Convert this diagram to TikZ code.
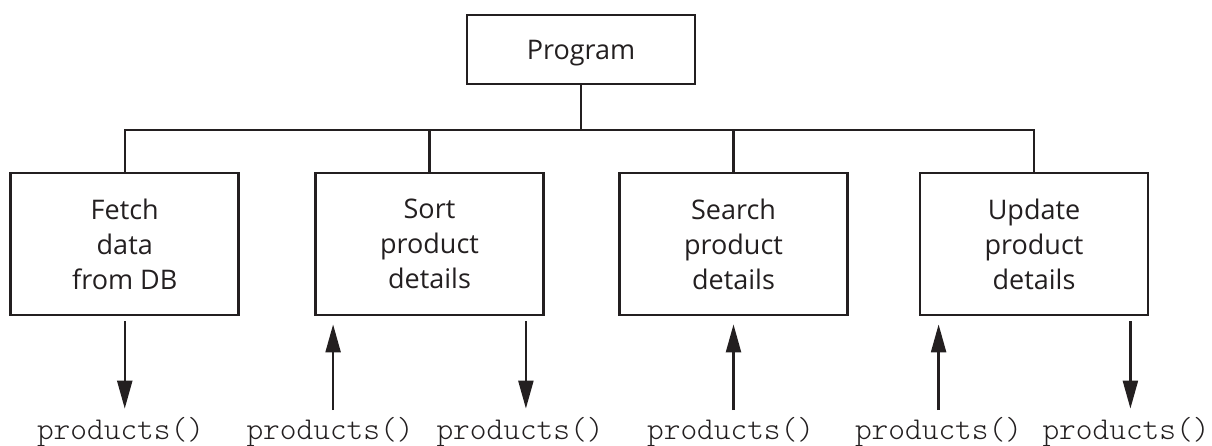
\documentclass[tikz,border=0pt]{standalone}
\usepackage{fontspec}
\setmainfont{Open Sans}
\newfontfamily\monolight{Latin Modern Mono Light}
\usetikzlibrary{arrows.meta}
\definecolor{ink}{RGB}{35,31,32}
\begin{document}
\begin{tikzpicture}[x=1pt,y=-1pt,
  box/.style={draw=ink,line width=2.8pt,minimum width=228pt,inner sep=0pt,align=center,
              font=\fontsize{27}{35}\selectfont,text=ink},
  link/.style={draw=ink,line width=2.3pt},
  arr/.style={draw=ink,line width=2.3pt,-{Triangle[width=15pt,length=28pt]}},
  lbl/.style={font=\fontsize{31.8}{32}\selectfont\monolight,anchor=base,inner sep=0pt,
              text height=24pt,text depth=6pt,text=ink}]
\useasboundingbox (0,0) rectangle (1212,446);

\node[box,minimum height=69pt,text height=19.5pt,text depth=0pt] (prog) at (581,49.5) {Program};
\node[box,minimum height=142pt] (b1) at (124.75,244) {Fetch\\data\\from DB};
\node[box,minimum height=142pt] (b2) at (429.5,244) {Sort\\product\\details};
\node[box,minimum height=142pt] (b3) at (733.5,244) {Search\\product\\details};
\node[box,minimum height=142pt] (b4) at (1034,244) {Update\\product\\details};

\coordinate (bus) at (0,130);
\draw[link] (prog.south) -- (prog.south |- bus);
\draw[link] (b1.north) -- (b1.north |- bus) -- (b4.north |- bus) -- (b4.north);
\draw[link] (b2.north) -- (b2.north |- bus);
\draw[link] (b3.north) -- (b3.north |- bus);

\node[lbl] (l1) at (120.5,439.3) {products()};
\node[lbl] (l2) at (330,439.3) {products()};
\node[lbl] (l3) at (520,439.3) {products()};
\node[lbl] (l4) at (730.6,439.3) {products()};
\node[lbl] (l5) at (938.5,439.3) {products()};
\node[lbl] (l6) at (1126,439.3) {products()};

\coordinate (u2) at ([xshift=19pt]b2.south west);
\coordinate (d2) at ([xshift=-19pt]b2.south east);
\coordinate (u4) at ([xshift=20pt]b4.south west);
\coordinate (d4) at ([xshift=-19pt]b4.south east);

\draw[arr,shorten <=5pt,shorten >=6.5pt] (b1.south) -- (b1.south |- l1.north);
\draw[arr,shorten <=5pt,shorten >=8pt] (u2 |- l2.north) -- (u2);
\draw[arr,shorten <=5pt,shorten >=6.5pt] (d2) -- (d2 |- l3.north);
\draw[arr,shorten <=5pt,shorten >=8pt] (b3.south |- l4.north) -- (b3.south);
\draw[arr,shorten <=5pt,shorten >=8pt] (u4 |- l5.north) -- (u4);
\draw[arr,shorten <=5pt,shorten >=6.5pt] (d4) -- (d4 |- l6.north);
\end{tikzpicture}
\end{document}
